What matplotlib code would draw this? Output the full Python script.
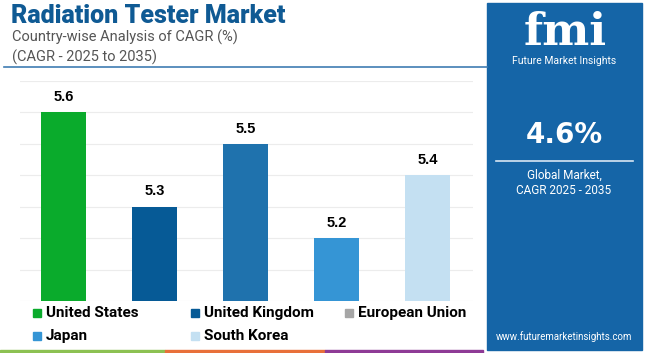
import matplotlib
matplotlib.use("Agg")
import matplotlib.pyplot as plt
from matplotlib.patches import Rectangle

# data
countries = ["United States", "United Kingdom", "European Union", "Japan", "South Korea"]
cagr = [5.6, 5.3, 5.5, 5.2, 5.4]
bar_colors = ["#0aab2c", "#065a96", "#1f72ad", "#3595d5", "#c4e0f2"]
legend_colors = ["#0aab2c", "#065a96", "#a6a6a6", "#3595d5", "#c4e0f2"]
global_cagr = "4.6%"

W, H = 650, 353
fig = plt.figure(figsize=(W / 100, H / 100), dpi=100)
fig.patch.set_facecolor("white")


def fx(x):
    return x / W


def fy(y):
    return 1 - y / H


# bar chart
ax = fig.add_axes([fx(20), fy(301), fx(453), (301 - 81) / H])
x = list(range(len(countries)))
bars = ax.bar(x, cagr, width=0.495, color=bar_colors, zorder=3)
ax.bar_label(bars, labels=[f"{v}" for v in cagr], padding=6,
             fontsize=10.5, fontweight="bold", family="Liberation Sans")
ax.set_ylim(5.0, 5.7)
ax.set_xlim(-0.48, 4.5)
ax.set_yticks([5.0, 5.1, 5.2, 5.3, 5.4, 5.5, 5.6, 5.7])
ax.grid(axis="y", color="#ececec", linewidth=0.8, zorder=0)
ax.tick_params(left=False, bottom=False, labelleft=False, labelbottom=False)
for s in ax.spines.values():
    s.set_visible(False)

# titles
fig.text(fx(11), fy(16), "Radiation Tester Market", fontsize=18, fontweight="black",
         family="Roboto", color="#0f5a94", va="center", ha="left")
fig.text(fx(12), fy(37), "Country-wise Analysis of CAGR (%)", fontsize=10.5,
         family="Roboto", color="#555555", va="center", ha="left")
fig.text(fx(12), fy(57), "(CAGR - 2025 to 2035)", fontsize=10.5,
         family="Roboto", color="#555555", va="center", ha="left")
fig.add_artist(plt.Line2D([fx(4), fx(487)], [fy(67), fy(67)], color="#3f7db3",
                          linewidth=1.2, transform=fig.transFigure))

# legend, row by row
legend_pos = [(37, 313), (195, 313), (349, 313), (37, 336), (195, 336)]
for name, c, (lx, ly) in zip(countries, legend_colors, legend_pos):
    fig.add_artist(Rectangle((fx(lx - 4), fy(ly + 4)), fx(8), 8 / H, color=c,
                             transform=fig.transFigure))
    fig.text(fx(lx + 9), fy(ly), name, fontsize=11, fontweight="bold",
             family="Roboto", color="black", va="center", ha="left")

# bottom strip
for x0, x1, c in [(0, 165, "#8cc152"), (165, 325, "#e8703a"), (325, 483, "#8e3b96")]:
    fig.add_artist(Rectangle((fx(x0), 0), fx(x1 - x0), 3 / H, color=c,
                             transform=fig.transFigure))

# right panel
panel = "#1565a7"
fig.add_artist(Rectangle((fx(487), fy(350)), fx(155), 347 / H, color=panel,
                         transform=fig.transFigure))
fig.text(fx(565), fy(45), "fmi", fontsize=32, fontweight="bold", family="DejaVu Serif",
         color="white", va="baseline", ha="center")
for yy in range(16, 48, 4):
    fig.add_artist(plt.Line2D([fx(505), fx(625)], [fy(yy), fy(yy)], color=panel,
                              linewidth=0.8, transform=fig.transFigure))
fig.text(fx(564), fy(61), "Future Market Insights", fontsize=7.5, family="Roboto",
         color="white", va="center", ha="center")
fig.text(fx(564), fy(135), global_cagr, fontsize=20, fontweight="bold",
         family="DejaVu Sans", color="white", va="center", ha="center")
fig.add_artist(plt.Line2D([fx(496), fx(633)], [fy(161), fy(161)], color="#d8e6f3",
                          linewidth=1.2, transform=fig.transFigure))
fig.text(fx(564), fy(175), "Global Market,", fontsize=8.5, family="Roboto",
         color="white", va="center", ha="center")
fig.text(fx(564), fy(191), "CAGR 2025 - 2035", fontsize=8.5, family="Roboto",
         color="white", va="center", ha="center")
fig.text(fx(564), fy(337), "www.futuremarketinsights.com", fontsize=7, family="Roboto",
         color="white", va="center", ha="center")

fig.savefig("out.png", dpi=100)
